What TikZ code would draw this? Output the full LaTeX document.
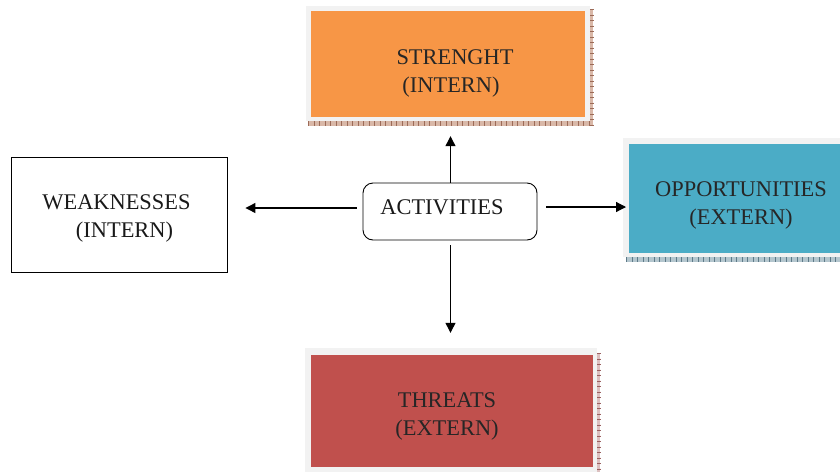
\documentclass[tikz,border=0pt]{standalone}
\usepackage{fontspec}
\setmainfont{Liberation Serif}
\usetikzlibrary{arrows.meta}
\definecolor{orangeF}{HTML}{F79646}
\definecolor{tealF}{HTML}{4BACC6}
\definecolor{redF}{HTML}{C0504D}
\definecolor{frameF}{HTML}{F2F2F2}
\definecolor{shO}{HTML}{D9B8A8}
\definecolor{shOd}{HTML}{9C6B58}
\definecolor{shT}{HTML}{B4C6CE}
\definecolor{shTd}{HTML}{5E7A88}
\definecolor{shR}{HTML}{DCC0C0}
\definecolor{shRd}{HTML}{9A6060}
\definecolor{txt}{HTML}{262626}
\begin{document}
\begin{tikzpicture}[x=1pt,y=-1pt,
  lbl/.style={font=\fontsize{22.4}{28}\selectfont, align=center, text=txt, inner sep=0pt},
  colbox/.style={inner sep=0pt, draw=none},
  shband/.style={line width=5pt, dash pattern=on 0.8pt off 4.7pt},
  arr/.style={-{Triangle[length=10pt,width=10pt]}, line width=1.2pt}]
\useasboundingbox (0,0) rectangle (840,472);
% ---- strength box
\fill[shO] (590,9) rectangle (593,126);
\fill[shO] (308,121) rectangle (593,126);
\draw[shOd, shband] (308,123.5) -- (593,123.5);
\draw[shOd, shband] (591.5,9) -- (591.5,126);
\fill[frameF] (306,6) rectangle (590,121);
\node[colbox, fill=orangeF, minimum width=274pt, minimum height=106pt] (strength) at (448,64) {};
\node[lbl] (strengthtxt) at (455,73.5) {STRENGHT\\\hspace*{-8pt}(INTERN)};
% ---- opportunities box
\fill[shT] (626,257) rectangle (840,262);
\draw[shTd, shband] (626,259.5) -- (840,259.5);
\fill[frameF] (623,138) rectangle (840,257);
\node[colbox, fill=tealF, minimum width=211pt, minimum height=109pt, anchor=north west] (opp) at (629,144) {};
\node[lbl] (opptxt) at (741,205) {OPPORTUNITIES\\(EXTERN)};
% ---- threats box
\fill[shR] (597,353) rectangle (600,472);
\draw[shRd, shband] (598.5,353) -- (598.5,472);
\fill[frameF] (305,348) rectangle (597,472);
\node[colbox, fill=redF, minimum width=282pt, minimum height=112pt] (threats) at (452,411) {};
\node[lbl] (threatstxt) at (447,416) {THREATS\\(EXTERN)};
% ---- weaknesses box
\node[draw=black, line width=0.9pt, minimum width=216pt, minimum height=115pt, inner sep=0pt] (weak) at (119,214.5) {};
\node[lbl, text=black!90] (weaktxt) at (116.5,218.5) {WEAKNESSES\\\hspace*{16pt}(INTERN)};
% ---- activities
\node[draw=black, line width=0.9pt, rounded corners=10pt, minimum width=174pt, minimum height=57pt, inner sep=0pt] (act) at (450,211.5) {};
\node[lbl, text=black!90] (acttxt) at (442,207) {ACTIVITIES};
% ---- arrows
\draw[arr, shorten >=19pt] ([xshift=0.5pt]act.north) -- ([xshift=0.5pt]act.north |- strength.south);
\draw[arr, shorten <=5pt, shorten >=22pt] ([xshift=0.5pt]act.south) -- ([xshift=0.5pt]act.south |- threats.north);
\draw[arr, shorten <=6pt, shorten >=18pt] ([yshift=3.5pt]act.west) -- ([yshift=3.5pt]act.west -| weak.east);
\draw[arr, shorten <=9pt, shorten >=3pt] ([yshift=4.5pt]act.east) -- ([yshift=4.5pt]act.east -| opp.west);
\end{tikzpicture}
\end{document}
